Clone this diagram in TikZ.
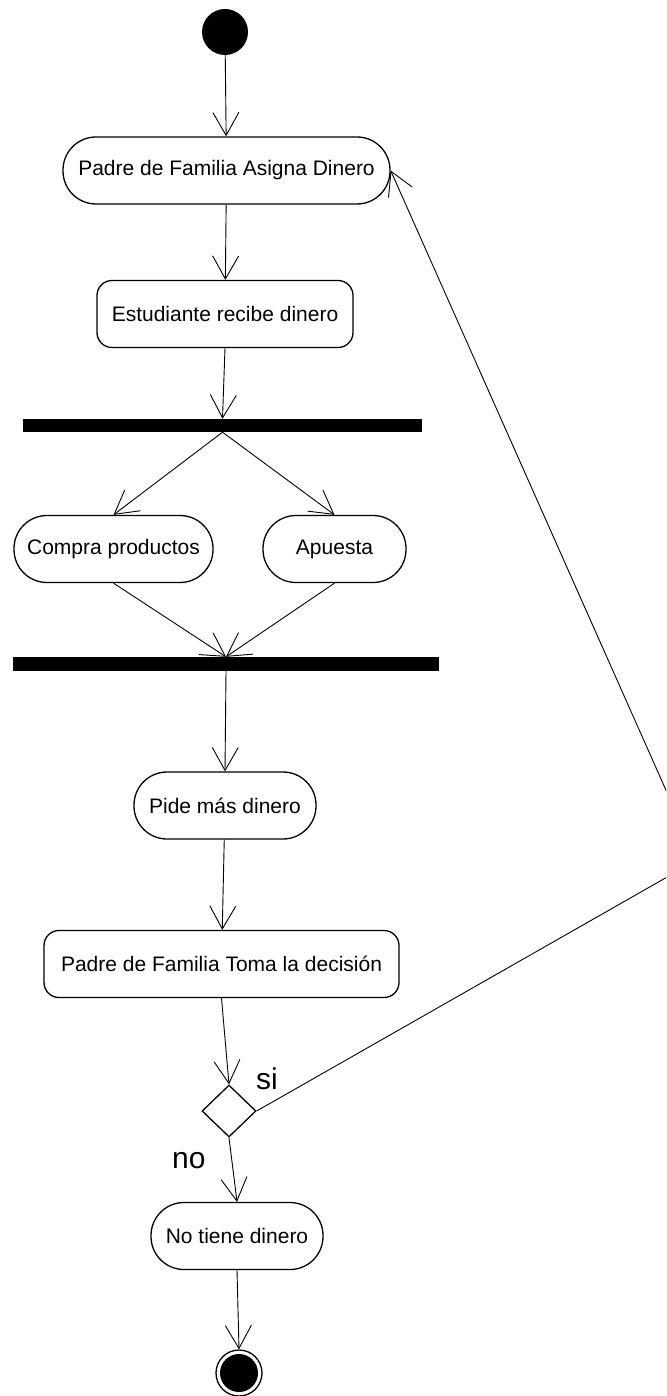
\documentclass[tikz,border=0pt]{standalone}
\usepackage{fontspec}
\setmainfont{Liberation Sans}
\usetikzlibrary{arrows.meta,shapes.geometric}

\begin{document}
\begin{tikzpicture}[x=1pt,y=-1pt,
  activity/.style={draw, line width=1.3pt, rounded corners=33pt,
    minimum height=67pt, inner sep=0pt, font=\fontsize{21}{25}\selectfont},
  action/.style={activity, rounded corners=15pt},
  bar/.style={fill=black, inner sep=0pt},
  conn/.style={line width=0.9pt, -{Straight Barb[length=23pt,width=26pt]}},
  guard/.style={anchor=base west, inner sep=0pt, font=\fontsize{30}{36}\selectfont}]

\useasboundingbox (0,0) rectangle (666,1396);
\clip (0,0) rectangle (666,1396);

% initial and final states
\node[circle, fill=black, minimum size=46pt, inner sep=0pt] (start) at (225,32) {};
\node[circle, draw, line width=1.3pt, minimum size=46pt, inner sep=0pt] (end) at (239,1373) {};
\node[circle, fill=black, minimum size=38pt, inner sep=0pt] (endcore) at (239,1373) {};

% activities
\node[activity, minimum width=327pt] (padre) at (226.5,170.5) {Padre de Familia Asigna Dinero};
\node[action, minimum width=256pt] (estud) at (225,314) {Estudiante recibe dinero};
\node[activity, minimum width=199pt] (compra) at (113.5,549) {Compra productos};
\node[activity, minimum width=143pt] (apuesta) at (334.5,549) {Apuesta};
\node[activity, minimum width=182pt] (pide) at (225,805.5) {Pide más dinero};
\node[action, minimum width=355pt] (toma) at (221.5,964) {Padre de Familia Toma la decisión};
\node[activity, minimum width=172pt] (notiene) at (237,1236) {No tiene dinero};

% fork and join bars
\node[bar, minimum width=399pt, minimum height=13pt] (fork) at (222.5,425.5) {};
\node[bar, minimum width=426pt, minimum height=14pt] (join) at (226,664) {};

% decision
\node[diamond, draw, line width=1.3pt, aspect=1, minimum width=54pt,
  minimum height=52pt, inner sep=0pt] (dec) at (229,1111) {};

% guards
\node[guard] (si) at (256,1089) {si};
\node[guard] (no) at (172,1168) {no};

% flows
\draw[conn] (start) -- (padre);
\draw[conn] (padre) -- (estud);
\draw[conn] (estud.south) -- (fork.north);
\draw[conn] (fork.south) -- (compra.north);
\draw[conn] (fork.south) -- (apuesta.north);
\draw[conn] (compra.south) -- (join.north);
\draw[conn] (apuesta.south) -- (join.north);
\draw[conn] (join.south) -- (pide.north);
\draw[conn] (pide) -- (toma);
\draw[conn] (toma.south) -- (dec.north);
\draw[conn] (dec.south) -- (notiene.north);
\draw[conn] (notiene.south) -- (end.north);

% loop back when the answer is yes
\coordinate (bend) at (697,860);
\draw[conn] (dec.east) -- (bend) -- (padre.east);
\end{tikzpicture}
\end{document}
